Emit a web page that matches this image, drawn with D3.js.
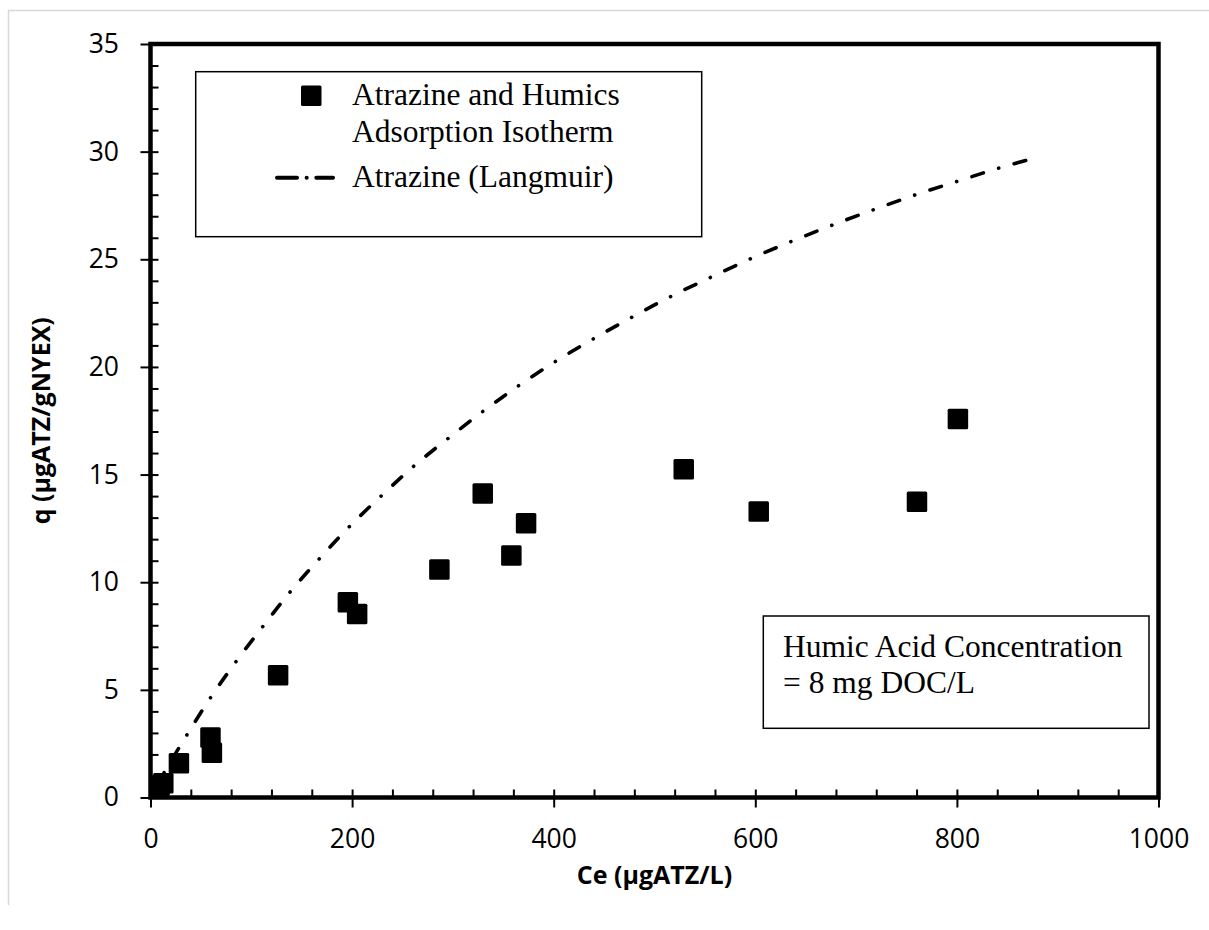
<!DOCTYPE html>
<html>
<head>
<meta charset="utf-8">
<script src="https://cdn.jsdelivr.net/npm/d3@7"></script>
<style>
  body { margin: 0; background: #fff; }
  svg { display: block; }
</style>
</head>
<body>
<svg id="chart" width="1209" height="930"></svg>
<script>
// Measured isotherm (atrazine with humics): equilibrium concentration and loading
const ceMeasured = [9, 12.7, 28.2, 59.5, 60.9, 126.6, 195.8, 205, 286.6, 329.6, 358, 372.6, 529, 603.4, 760.4, 801];
const qMeasured  = [0.55, 0.66, 1.59, 2.79, 2.08, 5.68, 9.07, 8.52, 10.59, 14.12, 11.24, 12.74, 15.25, 13.28, 13.74, 17.58];

// Atrazine-only Langmuir curve, sampled along its length
const ceLangmuir = [2.8, 13.4, 35.9, 59.3, 84.8, 111.3, 138.4, 167.5, 197.2, 228.7, 261.4, 295.8, 330.2, 365.9, 402.6, 440.3, 478.4, 517.7, 557.0, 597.0, 637.4, 678.1, 719.0, 760.4, 802.4, 844.0, 872.5];
const qLangmuir  = [0.27, 1.15, 2.89, 4.62, 6.31, 7.93, 9.54, 11.09, 12.58, 14.0, 15.4, 16.7, 17.95, 19.15, 20.28, 21.33, 22.33, 23.31, 24.19, 25.06, 25.86, 26.62, 27.33, 28.02, 28.65, 29.27, 29.64];

// Axis ticks and labels
const xTicks = [0, 200, 400, 600, 800, 1000];
const yTicks = [0, 5, 10, 15, 20, 25, 30, 35];
const xMinorStep = 40;
const yMinorStep = 1;
const xTitle = "Ce (\u03bcgATZ/L)";
const yTitle = "q (\u03bcgATZ/gNYEX)";

// Legend and note text
const legendMarkerLines = ["Atrazine and Humics", "Adsorption Isotherm"];
const legendCurveLabel = "Atrazine (Langmuir)";
const noteLines = ["Humic Acid Concentration", "= 8 mg DOC/L"];

const svg = d3.select("#chart");

// Outer chart-area border (light grey)
svg.append("line").attr("x1", 8.5).attr("x2", 8.5).attr("y1", 10).attr("y2", 905)
  .attr("stroke", "#d9d9d9").attr("stroke-width", 1.5);
svg.append("line").attr("x1", 8).attr("x2", 1209).attr("y1", 10.5).attr("y2", 10.5)
  .attr("stroke", "#d9d9d9").attr("stroke-width", 1.5);

const plot = { left: 150.5, right: 1158.5, top: 44, bottom: 797.5 };

const x = d3.scaleLinear().domain([0, 1000]).range([plot.left, plot.right]);
const y = d3.scaleLinear().domain([0, 35]).range([plot.bottom, plot.top]);

const tickFont = "'Open Sans', 'Noto Sans', sans-serif";

// X axis: outward major ticks with labels
const gxMajor = svg.append("g")
  .attr("transform", `translate(0,${plot.bottom})`)
  .call(d3.axisBottom(x).tickValues(xTicks).tickSize(10).tickPadding(21.5).tickFormat(d3.format("d")));
// X axis: inward major + minor ticks
const xMinor = d3.range(0, 1000 + 1e-9, xMinorStep);
const gxMinor = svg.append("g")
  .attr("transform", `translate(0,${plot.bottom})`)
  .call(d3.axisTop(x).tickValues(xMinor).tickSize(8).tickFormat(""));

// Y axis: outward major ticks with labels
const gyMajor = svg.append("g")
  .attr("transform", `translate(${plot.left},0)`)
  .call(d3.axisLeft(y).tickValues(yTicks).tickSize(10).tickPadding(21.5).tickFormat(d3.format("d")));
// Y axis: inward major + minor ticks
const yMinor = d3.range(0, 35 + 1e-9, yMinorStep);
const gyMinor = svg.append("g")
  .attr("transform", `translate(${plot.left},0)`)
  .call(d3.axisRight(y).tickValues(yMinor).tickSize(8).tickFormat(""));

[gxMajor, gxMinor, gyMajor, gyMinor].forEach(g => {
  g.select(".domain").remove();
  g.selectAll(".tick line").attr("stroke", "#000").attr("stroke-width", 2);
  g.selectAll(".tick text")
    .attr("fill", "#000")
    .style("font-family", tickFont)
    .style("font-size", "26.5px");
});

// Plot frame
svg.append("rect")
  .attr("x", plot.left).attr("y", plot.top)
  .attr("width", plot.right - plot.left).attr("height", plot.bottom - plot.top)
  .attr("fill", "none").attr("stroke", "#000").attr("stroke-width", 4.5);

// Axis titles
svg.append("text")
  .attr("x", (plot.left + plot.right) / 2).attr("y", 884)
  .attr("text-anchor", "middle")
  .style("font-family", tickFont).style("font-weight", "bold").style("font-size", "25px")
  .text(xTitle);

svg.append("text")
  .attr("transform", `translate(50,${(plot.top + plot.bottom) / 2}) rotate(-90)`)
  .attr("text-anchor", "middle")
  .style("font-family", tickFont).style("font-weight", "bold").style("font-size", "25px")
  .text(yTitle);

// Langmuir curve (dash-dot)
const langmuirPts = ceLangmuir.map((c, i) => [c, qLangmuir[i]]);
const line = d3.line().x(d => x(d[0])).y(d => y(d[1])).curve(d3.curveMonotoneX);
svg.append("path")
  .datum(langmuirPts)
  .attr("d", line)
  .attr("fill", "none")
  .attr("stroke", "#000")
  .attr("stroke-width", 3.6)
  .attr("stroke-linecap", "round")
  .attr("stroke-dasharray", "12 16 0.1 16")
  .attr("stroke-dashoffset", 6.2);

// Measured points (filled squares)
const sq = 20.5;
const measuredPts = ceMeasured.map((c, i) => [c, qMeasured[i]]);
svg.append("g").selectAll("rect")
  .data(measuredPts)
  .join("rect")
  .attr("x", d => x(d[0]) - sq / 2)
  .attr("y", d => y(d[1]) - sq / 2)
  .attr("width", sq).attr("height", sq)
  .attr("rx", 1.5)
  .attr("fill", "#000");

// Legend
const serif = "'Liberation Serif', 'Times New Roman', serif";
const legend = svg.append("g");
legend.append("rect")
  .attr("x", 195.7).attr("y", 71.7).attr("width", 506).attr("height", 165)
  .attr("fill", "#fff").attr("stroke", "#000").attr("stroke-width", 1.5);
legend.append("rect")
  .attr("x", 301).attr("y", 85.5).attr("width", 20.5).attr("height", 20.5)
  .attr("rx", 1.5).attr("fill", "#000");
legendMarkerLines.forEach((t, i) => {
  legend.append("text")
    .attr("x", 352).attr("y", 105 + i * 36.7)
    .style("font-family", serif).style("font-size", "31.5px")
    .text(t);
});
legend.append("line")
  .attr("x1", 277).attr("x2", 333).attr("y1", 177.7).attr("y2", 177.7)
  .attr("stroke", "#000").attr("stroke-width", 4)
  .attr("stroke-linecap", "round")
  .attr("stroke-dasharray", "20 9.6 0.1 9.6 20");
legend.append("text")
  .attr("x", 352).attr("y", 187)
  .style("font-family", serif).style("font-size", "31.5px")
  .text(legendCurveLabel);

// Note box
const note = svg.append("g");
note.append("rect")
  .attr("x", 763.3).attr("y", 616).attr("width", 385.7).attr("height", 112.3)
  .attr("fill", "#fff").attr("stroke", "#000").attr("stroke-width", 1.5);
noteLines.forEach((t, i) => {
  note.append("text")
    .attr("x", 783).attr("y", 656.6 + i * 36.7)
    .style("font-family", serif).style("font-size", "31.5px")
    .text(t);
});
</script>
</body>
</html>
